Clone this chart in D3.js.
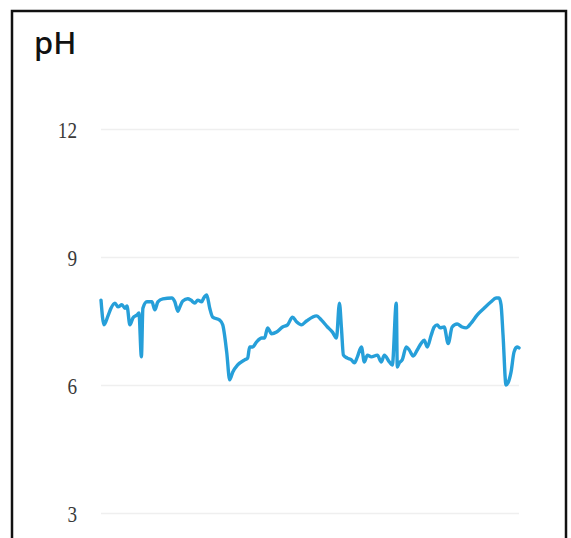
<!DOCTYPE html>
<html>
<head>
<meta charset="utf-8">
<script src="https://cdn.jsdelivr.net/npm/d3@7"></script>
<style>
  html, body { margin: 0; padding: 0; background: #fff; overflow: hidden; }
</style>
</head>
<body>
<div id="chart"></div>
<script>
const canvasWidth = 571;
const canvasHeight = 538;
const margin = { top: 129, right: 51, bottom: 25, left: 101 };

// readings (time offset, pH)
const timeOffsets = [0, 3, 7, 10, 14, 17, 21, 24, 26, 29, 32, 36, 38, 40.5, 42, 46, 51, 54, 57, 62,
    71, 74, 77, 79, 82, 87, 90, 94, 97, 101, 103, 106, 109, 112, 119, 122, 126, 129, 132, 137,
    144, 147, 149, 152, 156, 161, 164, 167, 171, 176, 182, 187, 192, 196, 201, 206, 216, 221, 227, 232,
    236, 239, 241, 243, 247, 251, 254, 257, 261, 264, 267, 271, 277, 281, 284, 289, 292, 296, 297, 299,
    302, 306, 309, 313, 317, 321, 324, 327, 331, 334, 337, 340, 344, 348, 352, 357, 362, 366, 371, 377,
    384, 391, 396, 399, 401, 403, 406, 408, 411, 414, 417, 419];
const phValues = [7.99, 7.41, 7.62, 7.80, 7.92, 7.83, 7.88, 7.80, 7.85, 7.41, 7.57, 7.64, 7.69, 6.66, 7.80, 7.95, 7.95, 7.76, 7.95, 8.02,
    8.04, 7.95, 7.73, 7.83, 7.97, 8.02, 7.99, 7.92, 7.99, 7.95, 8.04, 8.11, 7.80, 7.59, 7.52, 7.41, 6.77, 6.12, 6.30, 6.47,
    6.59, 6.63, 6.89, 6.89, 7.01, 7.10, 7.10, 7.34, 7.20, 7.24, 7.36, 7.41, 7.59, 7.48, 7.41, 7.50, 7.62, 7.52, 7.36, 7.24,
    7.10, 7.92, 7.34, 6.70, 6.63, 6.59, 6.52, 6.66, 6.89, 6.54, 6.70, 6.66, 6.70, 6.54, 6.70, 6.54, 6.47, 7.92, 6.42, 6.52,
    6.59, 6.89, 6.82, 6.68, 6.82, 6.98, 7.05, 6.89, 7.17, 7.36, 7.41, 7.34, 7.36, 6.97, 7.36, 7.43, 7.36, 7.34, 7.45, 7.64,
    7.80, 7.95, 8.04, 8.04, 7.88, 7.17, 6.00, 6.05, 6.30, 6.77, 6.89, 6.87];
const yTicks = [3, 6, 9, 12];
const title = "pH";

const data = timeOffsets.map((t, i) => ({ t: t, ph: phValues[i] }));

const svg = d3.select("#chart")
    .append("svg")
    .attr("width", canvasWidth)
    .attr("height", canvasHeight);

// card border (bottom runs past the window)
svg.append("rect")
    .attr("x", 12)
    .attr("y", 11)
    .attr("width", 554)
    .attr("height", 600)
    .attr("fill", "none")
    .attr("stroke", "#111")
    .attr("stroke-width", 2.5);

svg.append("text")
    .attr("x", 34)
    .attr("y", 54)
    .attr("font-family", "Noto Sans, sans-serif")
    .attr("font-size", 31)
    .attr("font-weight", 500)
    .attr("fill", "#111")
    .text(title);

const xScale = d3.scaleLinear()
    .domain(d3.extent(timeOffsets))
    .range([margin.left, canvasWidth - margin.right - 1]);
const yScale = d3.scaleLinear()
    .domain([3, 12])
    .range([513, margin.top]);

const yAxis = d3.axisLeft(yScale)
    .tickValues(yTicks)
    .tickSize(-(xScale.range()[1] - xScale.range()[0]))
    .tickPadding(0)
    .tickFormat(d3.format("d"));

const axisG = svg.append("g")
    .attr("transform", `translate(${margin.left},0)`)
    .call(yAxis);

axisG.select(".domain").remove();
axisG.selectAll(".tick line")
    .attr("stroke", "#efefef")
    .attr("stroke-width", 1.5);
axisG.selectAll(".tick text")
    .attr("font-family", "Liberation Serif, Times New Roman, serif")
    .attr("font-size", 24)
    .attr("fill", "#3a3a3a")
    .attr("x", 0)
    .attr("dy", "0.34em")
    .attr("transform", "translate(-24,0) scale(0.8,1)");

const line = d3.line()
    .x(d => xScale(d.t))
    .y(d => yScale(d.ph))
    .curve(d3.curveMonotoneX);

svg.append("path")
    .datum(data)
    .attr("d", line)
    .attr("fill", "none")
    .attr("stroke", "#269fd9")
    .attr("stroke-width", 3.4)
    .attr("stroke-linejoin", "round")
    .attr("stroke-linecap", "round");
</script>
</body>
</html>
